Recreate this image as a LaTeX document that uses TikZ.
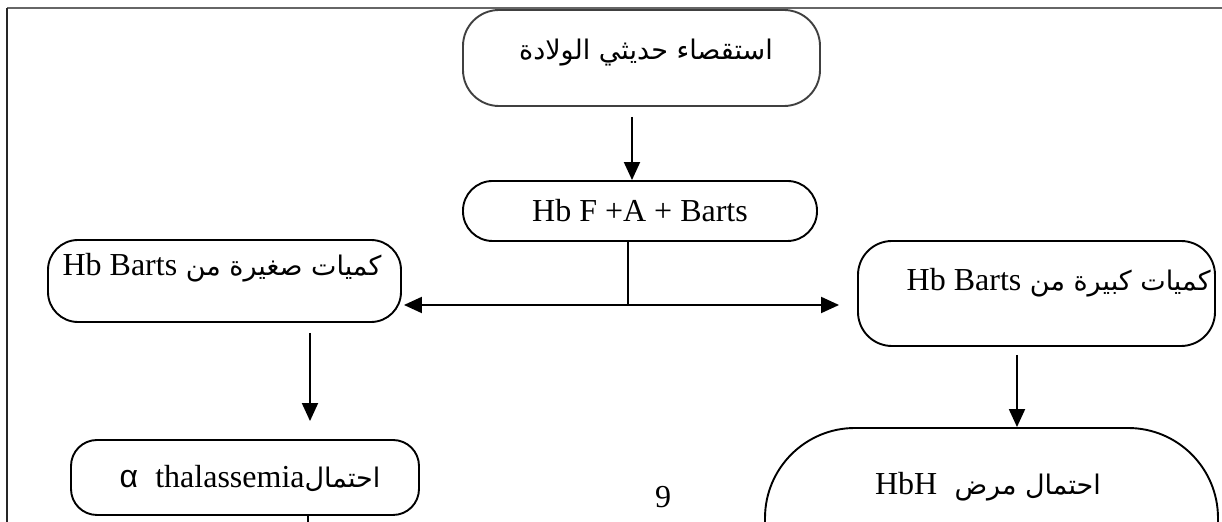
\documentclass[tikz,border=0pt]{standalone}
\usepackage{fontspec}
\setmainfont{Liberation Serif}
\newfontfamily\arabicfont[Script=Arabic]{DejaVu Sans}
\newfontfamily\greekfont{Liberation Sans}
\TeXXeTstate=1
\usetikzlibrary{arrows.meta}
\tikzset{
  boxstyle/.style={draw=black, line width=0.95pt, minimum width=#1, inner sep=0pt},
  txt/.style={inner sep=0pt, font=\fontsize{16}{19}\selectfont},
  arr/.style={line width=0.95pt, -{Triangle[width=8pt,length=9pt]}},
  plain/.style={line width=0.95pt},
  framestyle/.style={line width=0.7pt}
}
\newcommand{\ar}{\arabicfont\fontsize{13.5}{18}\selectfont}
\begin{document}
\begin{tikzpicture}[x=0.5pt,y=-0.5pt]
\useasboundingbox (0,0) rectangle (1222,522);
\clip (0,0) rectangle (1222,522);
\fill[white] (0,0) rectangle (1222,522);
% page frame
\draw[framestyle, draw=black!60] (7,8) -- (1222,8);
\draw[framestyle, draw=black!85] (7,8) -- (7,522);
% boxes
\node[boxstyle=178.5pt, draw=black!75, minimum height=48pt, rounded corners=18pt] (top) at (641.5,58) {};
\node[boxstyle=177pt, minimum height=30pt, rounded corners=14.8pt] (hb) at (640,211) {};
\node[boxstyle=176.5pt, minimum height=41pt, rounded corners=15pt] (lbox) at (224.5,281) {};
\node[boxstyle=178.5pt, minimum height=52.5pt, rounded corners=17pt] (rbox) at (1036.5,293.5) {};
\node[boxstyle=174pt, minimum height=37.5pt, rounded corners=13pt] (abox) at (245,477.5) {};
\node[boxstyle=226.5pt, minimum height=100pt, rounded corners=45pt] (hbh) at (991.5,528) {};
% texts
\node[txt] (t1) at (646,53) {\ar\beginR استقصاء حديثي الولادة\endR};
\node[txt] (t2) at (640,211) {Hb F +A + Barts};
\node[txt] (t3) at (222,268) {\ar\beginR كميات صغيرة من \beginL\fontsize{16}{19}\rmfamily Hb Barts\endL\endR};
\node[txt, anchor=east] (t4) at (1211,283) {\ar\beginR كميات كبيرة من \beginL\fontsize{16}{19}\rmfamily Hb Barts\endL\endR};
\node[txt] (t5) at (250,478) {\ar\beginR احتمال\beginL\fontsize{16}{19}{\greekfont α}\ \ \rmfamily thalassemia\endL\endR};
\node[txt] (t6) at (988,487) {\ar\beginR احتمال مرض \ \beginL\fontsize{16}{19}\rmfamily HbH\endL\endR};
\node[txt] (pg) at (663,497) {9};
% connectors
\coordinate (split) at (628,305);
\coordinate (a1) at (632,117);
\draw[arr] (a1) -- (a1 |- hb.north);
\draw[plain] (hb.south -| split) -- (split);
\draw[arr] (split) -- ([xshift=1pt]lbox.east |- split);
\draw[arr] (split) -- ([xshift=-9pt]rbox.west |- split);
\coordinate (a2) at (310,333);
\draw[arr] (a2) -- ([yshift=9pt]a2 |- abox.north);
\coordinate (rtop) at (1017,355);
\draw[arr] (rtop) -- (rtop |- hbh.north);
\coordinate (abot) at (308,522);
\draw[plain] (abot |- abox.south) -- (abot);
\end{tikzpicture}
\end{document}
